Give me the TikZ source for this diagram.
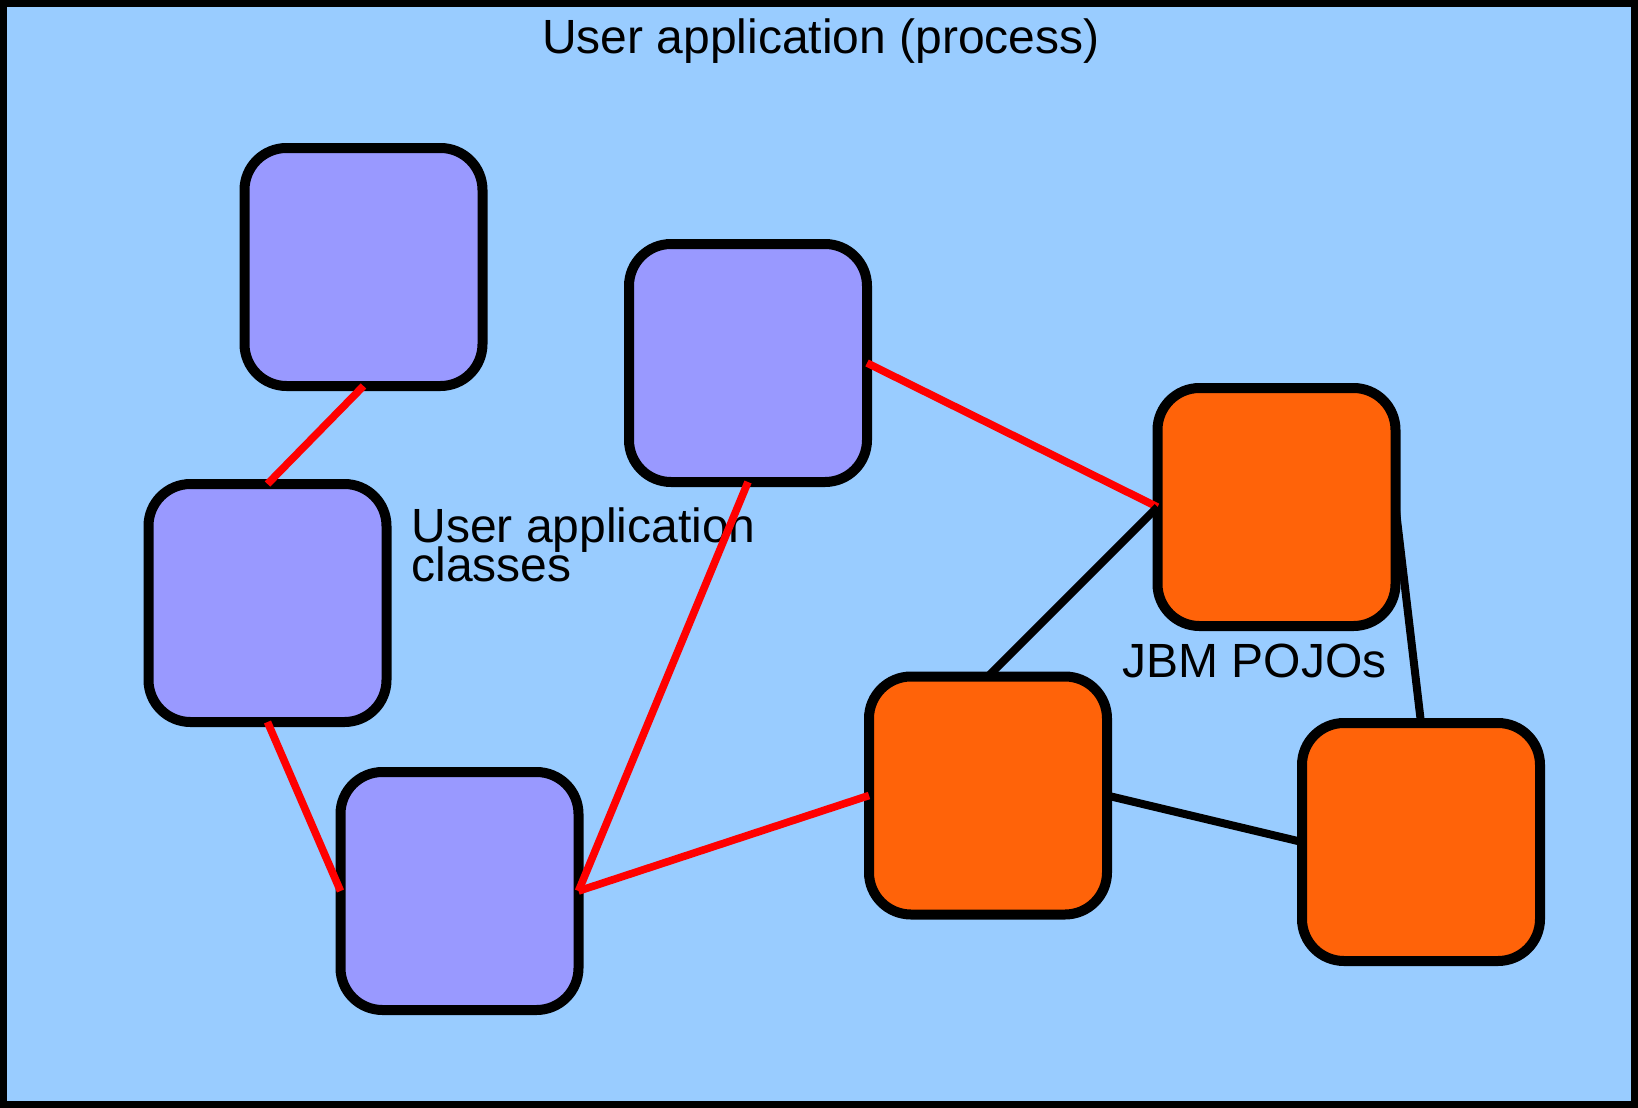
\documentclass[tikz,border=0pt]{standalone}
\usepackage{fontspec}
\setmainfont{Liberation Sans}
\definecolor{bgblue}{HTML}{99CCFF}
\definecolor{userpurple}{HTML}{9999FF}
\definecolor{pojoorange}{HTML}{FF6309}
\begin{document}
\begin{tikzpicture}[x=0.5pt,y=-0.5pt,
  boxbase/.style={draw=black,line width=5pt,rounded corners=21pt,
    minimum width=119pt,minimum height=119pt,inner sep=0pt,outer sep=0pt,rectangle},
  userbox/.style={boxbase,fill=userpurple},
  pojobox/.style={boxbase,fill=pojoorange},
  redlink/.style={draw=red,line width=3.8pt},
  blacklink/.style={draw=black,line width=4pt},
  lbl/.style={inner sep=0pt,font=\fontsize{24}{24}\selectfont}]
\useasboundingbox (0,0) rectangle (1638,1108);
\draw[fill=bgblue,line width=3.5pt] (3.5,3.5) rectangle (1634.5,1104.5);
\node[lbl,anchor=base] (title) at (821,53) {User application (process)};
\node[userbox] (A) at (363.5,267) {};
\node[userbox] (B) at (267.5,603) {};
\node[userbox] (C) at (459.5,891) {};
\node[userbox] (D) at (748,363) {};
\node[pojobox] (E) at (1276.5,507) {};
\node[pojobox] (F) at (988,795.5) {};
\node[pojobox] (G) at (1421,842) {};
\node[lbl,anchor=base west] (ua1) at (411,542) {User application};
\node[lbl,anchor=base west] (ua2) at (411,581) {classes};
\node[lbl,anchor=base west] (jbm) at (1122,677) {JBM POJOs};
\draw[redlink] (A.south) -- (B.north);
\draw[redlink] (B.south) -- (C.west);
\draw[redlink] (D.south) -- (C.east);
\draw[redlink] (C.east) -- (F.west);
\draw[redlink] (D.east) -- (E.west);
\draw[blacklink] (F.north) -- (E.west);
\draw[blacklink] (E.east) -- (G.north);
\draw[blacklink] (F.east) -- (G.west);
\end{tikzpicture}
\end{document}
